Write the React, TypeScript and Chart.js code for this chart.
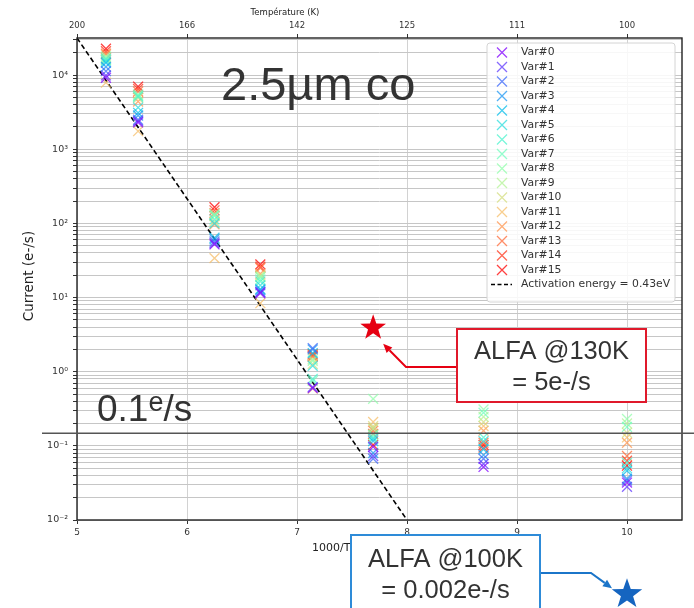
import React, { useEffect, useRef } from 'react';
import { Chart, registerables } from 'chart.js';

Chart.register(...registerables);

// ---- Data ----
const temperaturesK = [190, 180, 160, 150, 140, 130, 115, 100];

const var0 = [9200, 2300, 52, 11.4, 0.6, 0.097, 0.052, 0.032];
const var1 = [9900, 2400, 54, 11.8, 0.62, 0.073, 0.057, 0.028];
const var2 = [11300, 2500, 57, 12, 2.08, 0.067, 0.067, 0.034];
const var3 = [12900, 2850, 61, 12.6, 2.0, 0.08, 0.075, 0.036];
const var4 = [14600, 3100, 64, 13, 1.78, 0.116, 0.09, 0.046];
const var5 = [15200, 3650, 100, 14.6, 1.2, 0.124, 0.116, 0.05];
const var6 = [16500, 5100, 113, 16.5, 0.8, 0.13, 0.13, 0.059];
const var7 = [16000, 5300, 128, 17.5, 0.75, 0.14, 0.28, 0.18];
const var8 = [17800, 5500, 133, 19, 1.4, 0.43, 0.31, 0.23];
const var9 = [17200, 5200, 125, 19, 1.47, 0.17, 0.246, 0.2];
const var10 = [16200, 4900, 106, 20, 1.27, 0.185, 0.21, 0.15];
const var11 = [7900, 1750, 34, 8.4, 0.59, 0.21, 0.185, 0.13];
const var12 = [19000, 4400, 97, 21, 1.57, 0.175, 0.16, 0.11];
const var13 = [19500, 6000, 137, 25, 1.67, 0.16, 0.11, 0.073];
const var14 = [21000, 6500, 150, 26, 1.72, 0.145, 0.095, 0.063];
const var15 = [22700, 7000, 165, 28, 1.62, 0.103, 0.103, 0.054];

const varSeries = [var0, var1, var2, var3, var4, var5, var6, var7, var8, var9, var10, var11, var12, var13, var14, var15];
const varNames = ['Var#0', 'Var#1', 'Var#2', 'Var#3', 'Var#4', 'Var#5', 'Var#6', 'Var#7', 'Var#8', 'Var#9', 'Var#10', 'Var#11', 'Var#12', 'Var#13', 'Var#14', 'Var#15'];

const activationX = [5, 8];
const activationY = [31623, 0.01];
const activationLabel = 'Activation energy = 0.43eV';

const xMin = 5;
const xMax = 10.5;
const yMin = 0.01;
const yMax = 31623;

const topTickValues = [5, 6, 7, 8, 9, 10];
const topTickLabels = ['200', '166', '142', '125', '111', '100'];

const redStarPoint = { tempK: 130, current: 3.9 };
const blueStarPoint = { tempK: 100, current: 0.001 };
const thresholdCurrent = 0.148;

const redBoxLines = ['ALFA @130K', '= 5e-/s'];
const blueBoxLines = ['ALFA @100K', '= 0.002e-/s'];

// ---- helpers ----
function rainbow(i: number, n: number, alpha: number) {
  const x = i / (n - 1);
  const r = Math.min(1, Math.abs(2 * x - 0.5));
  const g = Math.sin(Math.PI * x);
  const b = Math.cos((Math.PI * x) / 2);
  return `rgba(${Math.round(r * 255)},${Math.round(g * 255)},${Math.round(b * 255)},${alpha})`;
}

const SUP: Record<string, string> = { '-': '⁻', '0': '⁰', '1': '¹', '2': '²', '3': '³', '4': '⁴', '5': '⁵', '6': '⁶', '7': '⁷', '8': '⁸', '9': '⁹' };
function powLabel(e: number) {
  return '10' + String(e).split('').map((c) => SUP[c]).join('');
}

function drawStar(ctx: CanvasRenderingContext2D, cx: number, cy: number, R: number, color: string) {
  const r = R * 0.4;
  ctx.beginPath();
  for (let k = 0; k < 10; k++) {
    const ang = -Math.PI / 2 + (k * Math.PI) / 5;
    const rad = k % 2 === 0 ? R : r;
    const px = cx + rad * Math.cos(ang);
    const py = cy + rad * Math.sin(ang);
    if (k === 0) ctx.moveTo(px, py);
    else ctx.lineTo(px, py);
  }
  ctx.closePath();
  ctx.fillStyle = color;
  ctx.fill();
}

function drawArrow(ctx: CanvasRenderingContext2D, pts: number[][], color: string, width: number) {
  ctx.save();
  ctx.strokeStyle = color;
  ctx.fillStyle = color;
  ctx.lineWidth = width;
  const n = pts.length;
  const [tx, ty] = pts[n - 1];
  const [sx, sy] = pts[n - 2];
  const ang = Math.atan2(ty - sy, tx - sx);
  const headLen = 9;
  const headW = 4;
  const bx = tx - headLen * Math.cos(ang);
  const by = ty - headLen * Math.sin(ang);
  ctx.beginPath();
  ctx.moveTo(pts[0][0], pts[0][1]);
  for (let i = 1; i < n - 1; i++) ctx.lineTo(pts[i][0], pts[i][1]);
  ctx.lineTo(bx, by);
  ctx.stroke();
  ctx.beginPath();
  ctx.moveTo(tx, ty);
  ctx.lineTo(bx + headW * Math.sin(ang), by - headW * Math.cos(ang));
  ctx.lineTo(bx - headW * Math.sin(ang), by + headW * Math.cos(ang));
  ctx.closePath();
  ctx.fill();
  ctx.restore();
}

function drawBox(ctx: CanvasRenderingContext2D, x: number, y: number, w: number, h: number, border: string, lines: string[], baselines: number[]) {
  ctx.save();
  ctx.fillStyle = '#ffffff';
  ctx.fillRect(x, y, w, h);
  ctx.strokeStyle = border;
  ctx.lineWidth = 2;
  ctx.strokeRect(x, y, w, h);
  ctx.fillStyle = '#333333';
  ctx.font = "25.5px 'Liberation Sans', Arial, sans-serif";
  ctx.textAlign = 'center';
  ctx.textBaseline = 'alphabetic';
  lines.forEach((t, i) => ctx.fillText(t, x + w / 2, baselines[i]));
  ctx.restore();
}

const overlayPlugin = {
  id: 'overlayPlugin',
  afterDatasetsDraw(chart: any) {
    const { ctx, chartArea: a } = chart;
    ctx.save();
    // frame
    ctx.strokeStyle = '#222';
    ctx.lineWidth = 1.4;
    ctx.strokeRect(a.left, a.top, a.right - a.left, a.bottom - a.top);

    // legend
    const lx = 487, ly = 43, lw = 188, lh = 259;
    ctx.beginPath();
    ctx.roundRect(lx, ly, lw, lh, 3);
    ctx.fillStyle = 'rgba(255,255,255,0.85)';
    ctx.fill();
    ctx.strokeStyle = '#d4d4d4';
    ctx.lineWidth = 1;
    ctx.stroke();
    ctx.font = "10.8px 'DejaVu Sans', sans-serif";
    ctx.textBaseline = 'middle';
    ctx.textAlign = 'left';
    const rowStep = 14.5;
    const y0 = 52.5;
    chart.data.datasets.forEach((ds: any, i: number) => {
      const cy = y0 + i * rowStep;
      if (ds.showLine) {
        ctx.save();
        ctx.strokeStyle = '#000';
        ctx.lineWidth = 1.6;
        ctx.setLineDash([4, 2.5]);
        ctx.beginPath();
        ctx.moveTo(491, cy);
        ctx.lineTo(512, cy);
        ctx.stroke();
        ctx.restore();
      } else {
        ctx.strokeStyle = ds.pointBorderColor;
        ctx.lineWidth = 1.3;
        const h = 5;
        ctx.beginPath();
        ctx.moveTo(502 - h, cy - h);
        ctx.lineTo(502 + h, cy + h);
        ctx.moveTo(502 - h, cy + h);
        ctx.lineTo(502 + h, cy - h);
        ctx.stroke();
      }
      ctx.fillStyle = '#333';
      ctx.fillText(ds.label, 521, cy);
    });
    ctx.restore();
  },
  afterDraw(chart: any) {
    const { ctx, scales } = chart;
    const xs = scales.x;
    const ys = scales.y;
    ctx.save();

    // axis titles
    ctx.fillStyle = '#222';
    ctx.textBaseline = 'middle';
    ctx.textAlign = 'center';
    ctx.font = "8.5px 'DejaVu Sans', sans-serif";
    ctx.fillText('Température (K)', 285, 13);
    ctx.textAlign = 'left';
    ctx.font = "11px 'DejaVu Sans', sans-serif";
    ctx.fillText('1000/T (1/K)', 312, 548);
    ctx.save();
    ctx.translate(29, 276);
    ctx.rotate(-Math.PI / 2);
    ctx.textAlign = 'center';
    ctx.font = "13.5px 'DejaVu Sans', sans-serif";
    ctx.fillText('Current (e-/s)', 0, 0);
    ctx.restore();

    // big overlay text
    ctx.fillStyle = '#333';
    ctx.textBaseline = 'alphabetic';
    ctx.textAlign = 'left';
    ctx.font = "47px 'Liberation Sans', Arial, sans-serif";
    ctx.fillText('2.5µm co', 221, 100);

    const big = "37px 'Liberation Sans', Arial, sans-serif";
    const small = "27px 'Liberation Sans', Arial, sans-serif";
    let tx = 97;
    ctx.font = big;
    ctx.fillText('0.1', tx, 421);
    tx += ctx.measureText('0.1').width;
    ctx.font = small;
    ctx.fillText('e', tx, 411);
    tx += ctx.measureText('e').width;
    ctx.font = big;
    ctx.fillText('/s', tx, 421);

    // threshold line
    const ty = ys.getPixelForValue(thresholdCurrent);
    ctx.strokeStyle = '#555';
    ctx.lineWidth = 1.4;
    ctx.beginPath();
    ctx.moveTo(42, ty);
    ctx.lineTo(694, ty);
    ctx.stroke();

    // red star + callout
    const rsx = xs.getPixelForValue(1000 / redStarPoint.tempK);
    const rsy = ys.getPixelForValue(redStarPoint.current);
    drawStar(ctx, rsx, rsy, 13.5, '#e60012');
    drawArrow(ctx, [[457, 367], [406, 367], [rsx + 10, rsy + 16]], '#e60012', 2);
    drawBox(ctx, 457, 329, 189, 73, '#e0192b', redBoxLines, [359, 390]);

    // blue star + callout
    const bsx = xs.getPixelForValue(1000 / blueStarPoint.tempK);
    const bsy = ys.getPixelForValue(blueStarPoint.current);
    drawArrow(ctx, [[540, 573], [591, 573], [bsx - 15, bsy - 6]], '#1b75c9', 2);
    drawStar(ctx, bsx, bsy, 16, '#1565c0');
    drawBox(ctx, 351, 535, 189, 90, '#2e8bd8', blueBoxLines, [567, 598]);

    ctx.restore();
  },
};

export default function App() {
  const ref = useRef<HTMLCanvasElement>(null);

  useEffect(() => {
    document.body.style.margin = '0';
    const canvas = ref.current;
    if (!canvas) return;

    const datasets: any[] = varSeries.map((vals, i) => ({
      type: 'scatter',
      label: varNames[i],
      data: temperaturesK.map((t, j) => ({ x: 1000 / t, y: vals[j] })),
      showLine: false,
      pointStyle: 'crossRot',
      pointRadius: 7,
      pointHoverRadius: 7,
      pointBorderWidth: 1.3,
      pointBorderColor: rainbow(i, varSeries.length, 0.75),
      pointBackgroundColor: rainbow(i, varSeries.length, 0.75),
    }));
    datasets.push({
      type: 'scatter',
      label: activationLabel,
      data: activationX.map((x, j) => ({ x, y: activationY[j] })),
      showLine: true,
      borderColor: '#000',
      borderWidth: 1.6,
      borderDash: [5, 3],
      pointRadius: 0,
      fill: false,
    });

    const chart = new Chart(canvas, {
      type: 'scatter',
      data: { datasets },
      options: {
        responsive: false,
        animation: false,
        devicePixelRatio: 1,
        layout: { padding: { left: 0, right: 12, top: 0, bottom: 0 } },
        plugins: { legend: { display: false }, tooltip: { enabled: false }, title: { display: false } },
        scales: {
          x: {
            type: 'linear',
            position: 'bottom',
            min: xMin,
            max: xMax,
            border: { display: false },
            grid: { color: '#d2d2d2', lineWidth: 1, tickColor: '#333', tickLength: 4 },
            ticks: {
              stepSize: 1,
              includeBounds: false,
              autoSkip: false,
              maxRotation: 0,
              padding: 3,
              color: '#333',
              font: { family: "'DejaVu Sans', sans-serif", size: 9 },
            },
            afterFit: (s: any) => { s.height = 88; },
          },
          x2: {
            type: 'linear',
            position: 'top',
            min: xMin,
            max: xMax,
            border: { display: false },
            grid: { drawOnChartArea: false, tickColor: '#333', tickLength: 4 },
            afterBuildTicks: (s: any) => { s.ticks = topTickValues.map((v) => ({ value: v })); },
            ticks: {
              autoSkip: false,
              maxRotation: 0,
              padding: 3,
              color: '#333',
              font: { family: "'DejaVu Sans', sans-serif", size: 8.5 },
              callback: (v: any) => {
                const idx = topTickValues.indexOf(Math.round(Number(v)));
                return idx >= 0 ? topTickLabels[idx] : '';
              },
            },
            afterFit: (s: any) => { s.height = 38; },
          },
          y: {
            type: 'logarithmic',
            position: 'left',
            min: yMin,
            max: yMax,
            border: { display: false },
            grid: { color: '#c6c6c6', lineWidth: 1, tickColor: '#333', tickLength: 4 },
            afterBuildTicks: (s: any) => {
              const ticks: any[] = [];
              for (let e = -2; e <= 4; e++) {
                for (let m = 1; m <= 9; m++) {
                  const v = Number((m * Math.pow(10, e)).toPrecision(6));
                  if (v >= yMin && v <= yMax) ticks.push({ value: v });
                }
              }
              s.ticks = ticks;
            },
            ticks: {
              autoSkip: false,
              padding: 5,
              color: '#333',
              font: { family: "'DejaVu Sans', sans-serif", size: 9.5 },
              callback: (v: any) => {
                const lg = Math.log10(Number(v));
                const r = Math.round(lg);
                return Math.abs(lg - r) < 1e-6 ? powLabel(r) : '';
              },
            },
            afterFit: (s: any) => { s.width = 77; },
          },
        },
      },
      plugins: [overlayPlugin],
    } as any);

    return () => chart.destroy();
  }, []);

  return (
    <canvas ref={ref} width={694} height={608} style={{ display: 'block', width: '694px', height: '608px' }} />
  );
}
